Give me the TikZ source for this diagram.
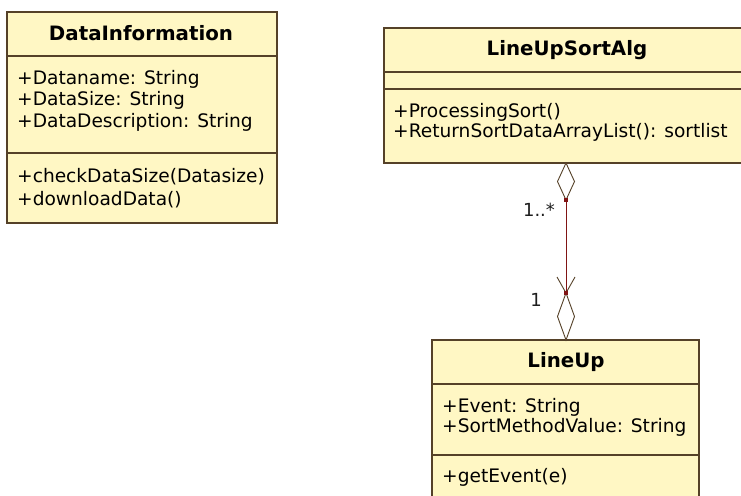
\documentclass[tikz,border=0pt]{standalone}
\usepackage{fontspec}
\usetikzlibrary{calc}
\setmainfont{DejaVu Sans}
\definecolor{boxfill}{RGB}{255,247,196}
\definecolor{boxline}{RGB}{85,65,40}
\definecolor{assoc}{RGB}{128,20,20}
\definecolor{mult}{RGB}{30,30,30}
\begin{document}
\begin{tikzpicture}[x=1pt,y=-1pt,
  classbox/.style={draw=boxline,line width=1.2pt,fill=boxfill},
  divline/.style={draw=boxline,line width=1.1pt},
  ctitle/.style={font=\fontsize{19.8}{22}\selectfont\bfseries,inner sep=0pt},
  mtext/.style={font=\fontsize{18.6}{21}\selectfont,inner sep=0pt,anchor=west,align=left},
  multlabel/.style={font=\fontsize{18}{20}\selectfont,text=mult,inner sep=0pt},
  assocline/.style={draw=assoc,line width=0.9pt},
  diam/.style={draw=boxline,line width=0.9pt,fill=white}]
\useasboundingbox (0,0) rectangle (741,495);
% DataInformation
\draw[classbox] (7,12) rectangle (277,223);
\draw[divline] (7,56) -- (277,56);
\draw[divline] (7,153) -- (277,153);
\node[ctitle] (diname) at (141,33) {DataInformation};
\node[mtext] (diattr) at (17,79) {+Dataname: String};
\node[mtext] (diattr2) at (17,100) {+DataSize: String};
\node[mtext] (diattr3) at (17,122) {+DataDescription: String};
\node[mtext] (dimeth) at (17,177) {+checkDataSize(Datasize)};
\node[mtext] (dimeth2) at (17,200) {+downloadData()};
% LineUpSortAlg
\draw[classbox] (384,28) rectangle (752,163);
\draw[divline] (384,72) -- (752,72);
\draw[divline] (384,89) -- (752,89);
\node[ctitle] (lsname) at (567,50) {LineUpSortAlg};
\node[mtext] (lsmeth) at (393,112) {+ProcessingSort()};
\node[mtext] (lsmeth2) at (393,132) {+ReturnSortDataArrayList(): sortlist};
% LineUp
\draw[classbox] (432,340) rectangle (699,500);
\draw[divline] (432,384) -- (699,384);
\draw[divline] (432,455) -- (699,455);
\node[ctitle] (luname) at (566,362) {LineUp};
\node[mtext] (luattr) at (442,407) {+Event: String};
\node[mtext] (luattr2) at (442,427) {+SortMethodValue: String};
\node[mtext] (lumeth) at (442,477) {+getEvent(e)};
% association
\coordinate (topend) at (566,163);
\coordinate (dtop) at (566,200);
\coordinate (arrtip) at (566,293);
\coordinate (botend) at (566,340);
\draw[assocline] (topend) -- (botend);
\draw[diam] (topend) -- (557.5,181.5) -- (dtop) -- (574.5,181.5) -- cycle;
\draw[diam] (arrtip) -- (557.5,316.5) -- (botend) -- (574.5,316.5) -- cycle;
\draw[draw=boxline,line width=0.9pt] (557,277) -- (arrtip) -- (575,277);
\fill[assoc] ($(dtop)+(-2,-2)$) rectangle ($(dtop)+(2,2)$);
\fill[assoc] ($(arrtip)+(-2,-2)$) rectangle ($(arrtip)+(2,2)$);
\node[multlabel] (m1) at (539,210) {1..*};
\node[multlabel] (m2) at (536,300) {1};
\end{tikzpicture}
\end{document}
